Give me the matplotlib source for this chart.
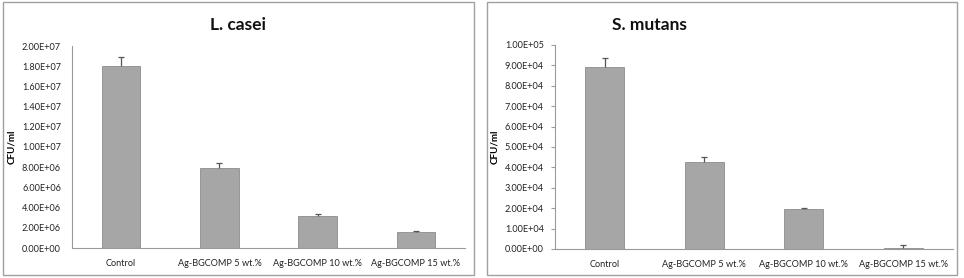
import matplotlib
matplotlib.use("Agg")
import matplotlib.pyplot as plt
from matplotlib.patches import Rectangle
from matplotlib.ticker import FuncFormatter

plt.rcParams['font.family'] = ['Lato', 'DejaVu Sans']

categories = ["Control", "Ag-BGCOMP 5 wt.%", "Ag-BGCOMP 10 wt.%", "Ag-BGCOMP 15 wt.%"]

casei_vals = [1.80e7, 7.9e6, 3.15e6, 1.6e6]
casei_err = [0.9e6, 0.5e6, 0.2e6, 0.1e6]

mutans_vals = [8.9e4, 4.28e4, 1.95e4, 4.0e2]
mutans_err = [4.5e3, 2.2e3, 0.8e3, 1.6e3]

panels = [
    ("L. casei", casei_vals, casei_err, 2.0e7, 2.0e6),
    ("S. mutans", mutans_vals, mutans_err, 1.0e5, 1.0e4),
]

W, H = 964, 278
fig = plt.figure(figsize=(W / 100, H / 100), dpi=100)

# panel frames (pixels)
frames = [(3, 2, 474, 275), (487, 2, 957, 275)]
for x0, y0, x1, y1 in frames:
    fig.add_artist(Rectangle((x0 / W, 1 - y1 / H), (x1 - x0) / W, (y1 - y0) / H,
                             transform=fig.transFigure, fill=False,
                             edgecolor="#a0a0a0", linewidth=1.0))

# axes boxes in pixels: left, top, right, bottom
boxes = [(72, 46, 465, 248), (555, 45, 953, 249)]
title_x = [238, 649]
tick_len = [0, 3]


def sci(v, pos):
    return f"{v:.2E}"


for (title, vals, errs, ymax, step), (l, t, r, b), tx, tl in zip(panels, boxes, title_x, tick_len):
    ax = fig.add_axes([l / W, 1 - b / H, (r - l) / W, (b - t) / H])
    x = list(range(len(categories)))
    ax.bar(x, vals, width=0.39, color="#a6a6a6", edgecolor="#8c8c8c", linewidth=0.6)
    # plus-only error bars, like Excel
    eb = ax.errorbar(x, vals, yerr=[[0] * len(errs), errs], fmt="none", capsize=2.5,
                     ecolor="#555555", elinewidth=0.9, capthick=0.9)
    eb[1][0].set_visible(False)
    ax.set_xlim(-0.5, 3.5)
    ax.set_ylim(0, ymax)
    ax.set_yticks([i * step for i in range(11)])
    ax.yaxis.set_major_formatter(FuncFormatter(sci))
    ax.set_xticks(x)
    ax.set_xticklabels(categories)
    ax.tick_params(axis="y", labelsize=6.6, length=tl, color="#a0a0a0", pad=8 - tl,
                   labelcolor="#222222")
    ax.tick_params(axis="x", labelsize=6.6, length=0, pad=8, labelcolor="#222222")
    for s in ("top", "right"):
        ax.spines[s].set_visible(False)
    for s in ("left", "bottom"):
        ax.spines[s].set_color("#9a9a9a")
        ax.spines[s].set_linewidth(0.8)
    ax.set_ylabel("CFU/ml", fontsize=7, fontweight="bold", labelpad=4)
    fig.text(tx / W, 1 - 25 / H, title, fontsize=12.5, fontweight="bold",
             ha="center", va="center", color="#111111")

fig.savefig("out.png", dpi=100)
